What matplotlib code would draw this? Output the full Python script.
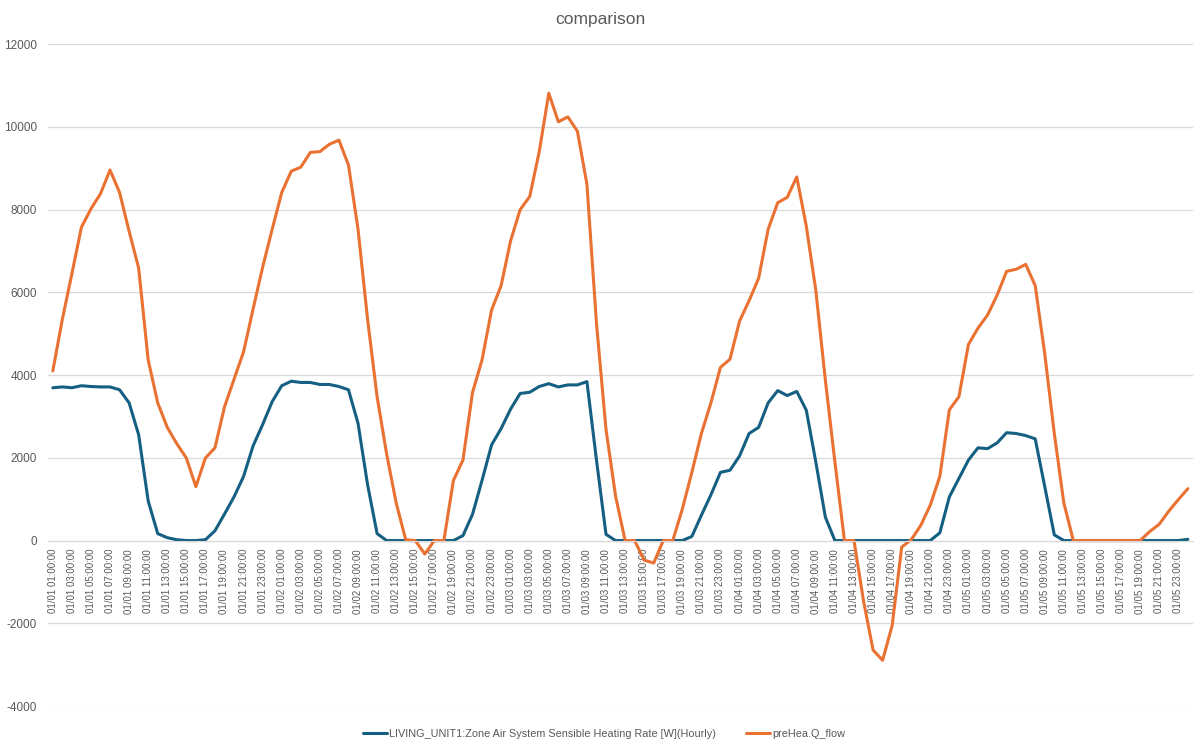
import numpy as np
import pandas as pd
import matplotlib
matplotlib.use("Agg")
import matplotlib.pyplot as plt
from matplotlib import font_manager

# hourly values (01/01 01:00 .. 01/05 24:00)
zone_heating_rate = [
    3694, 3714, 3694, 3743, 3724, 3714, 3714, 3645, 3329, 2558,
    958, 168, 69, 20, 0, 0, 20, 237, 640, 1057,
    1551, 2291, 2805, 3358, 3743, 3852, 3822, 3822, 3773, 3773,
    3724, 3645, 2835, 1353, 168, 0, 0, 0, 0, 0,
    0, 0, 0, 119, 632, 1452, 2311, 2706, 3180, 3556,
    3585, 3724, 3793, 3714, 3763, 3763, 3842, 1946, 150, 0,
    0, 0, 0, 0, 0, 0, 0, 99, 612, 1106,
    1649, 1699, 2045, 2588, 2736, 3329, 3625, 3506, 3605, 3150,
    1896, 563, 0, 0, 0, 0, 0, 0, 0, 0,
    0, 0, 0, 188, 1057, 1501, 1946, 2242, 2222, 2360,
    2607, 2588, 2538, 2459, 1304, 138, 0, 0, 0, 0,
    0, 0, 0, 0, 0, 0, 0, 0, 0, 30,
]
prehea_q_flow = [
    4100, 5350, 6450, 7575, 8020, 8385, 8958, 8415, 7477, 6588,
    4366, 3329, 2736, 2341, 1995, 1304, 1995, 2242, 3230, 3900,
    4563, 5600, 6608, 7526, 8415, 8929, 9028, 9383, 9403, 9581,
    9679, 9077, 7526, 5353, 3477, 2094, 909, 20, 0, -326,
    0, 0, 1452, 1946, 3575, 4366, 5571, 6163, 7250, 8000,
    8316, 9403, 10815, 10124, 10242, 9897, 8613, 5254, 2687, 1080,
    0, 0, -474, -543, 0, 0, 760, 1649, 2588, 3329,
    4188, 4385, 5304, 5798, 6341, 7526, 8168, 8297, 8791, 7600,
    6045, 3872, 1896, 0, 0, -1462, -2647, -2894, -2054, -158,
    20, 365, 859, 1551, 3161, 3477, 4741, 5136, 5452, 5930,
    6509, 6558, 6677, 6163, 4514, 2588, 909, 0, 0, 0,
    0, 0, 0, 0, 0, 217, 395, 711, 988, 1254,
]
series_names = [
    "LIVING_UNIT1:Zone Air System Sensible Heating Rate [W](Hourly)",
    "preHea.Q_flow",
]
timestamps = pd.date_range("2001-01-01 01:00", periods=len(zone_heating_rate), freq="h")
tick_labels = [t.strftime("%m/%d %H:%M:%S") for t in timestamps]
y_ticks = [-4000, -2000, 0, 2000, 4000, 6000, 8000, 10000, 12000]

available = {f.name for f in font_manager.fontManager.ttflist}
narrow = "Liberation Sans Narrow" in available
font = "Liberation Sans Narrow" if narrow else "Liberation Sans"
plt.rcParams["font.family"] = [font, "DejaVu Sans"]

text_grey = "#595959"
fig = plt.figure(figsize=(12.01, 7.49), dpi=100)
ax = fig.add_axes([0.040, 0.0574, 0.953, 0.8836])

# category axis crosses the value axis at zero (set before styling ticks)
ax.spines["bottom"].set_position(("data", 0))
for side in ["top", "right", "left"]:
    ax.spines[side].set_visible(False)
ax.spines["bottom"].set_color("#D9D9D9")

x = np.arange(len(zone_heating_rate))
ax.plot(x, zone_heating_rate, color="#156082", linewidth=2.2, label=series_names[0],
        solid_joinstyle="round", solid_capstyle="round")
ax.plot(x, prehea_q_flow, color="#E97132", linewidth=2.2, label=series_names[1],
        solid_joinstyle="round", solid_capstyle="round")

ax.set_xlim(-0.5, len(x) - 0.5)
ax.set_ylim(-4000, 12000)
ax.set_yticks(y_ticks)
ax.set_yticklabels([str(v) for v in y_ticks], fontsize=9 if narrow else 8.5, color=text_grey)
ax.grid(axis="y", color="#D9D9D9", linewidth=0.9)
ax.set_axisbelow(True)

ax.set_xticks(x[::2])
ax.set_xticklabels(tick_labels[::2], rotation=90, fontsize=8.5 if narrow else 7.0,
                   color=text_grey, va="top", ha="center")
ax.tick_params(axis="both", length=0)
ax.tick_params(axis="x", pad=6)
ax.tick_params(axis="y", pad=8)

fig.suptitle("comparison", x=0.5, y=0.984, va="top", fontsize=12.5, color=text_grey)
fig.legend(loc="lower center", bbox_to_anchor=(0.503, 0.0), ncol=2, frameon=False,
           fontsize=9 if narrow else 7.8, labelcolor=text_grey, handlelength=2.2,
           handletextpad=0.2, columnspacing=2.8)

fig.savefig("out.png", dpi=100)
